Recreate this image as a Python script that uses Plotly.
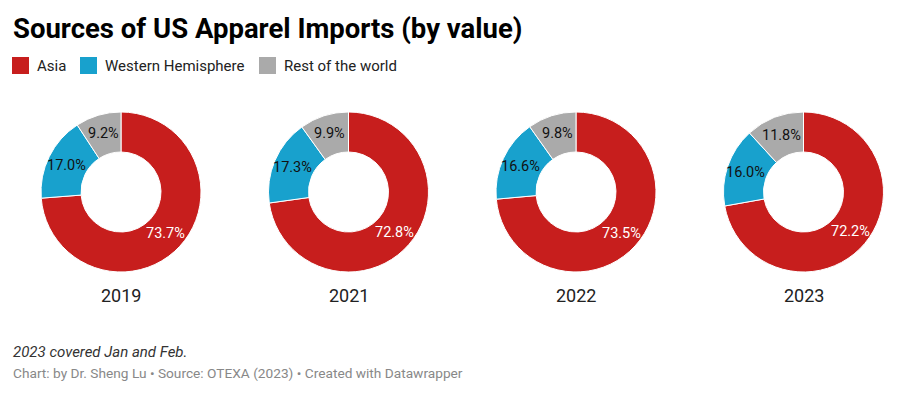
import math
import plotly.graph_objects as go

years = ["2019", "2021", "2022", "2023"]
regions = ["Asia", "Western Hemisphere", "Rest of the world"]
asia = [73.7, 72.8, 73.5, 72.2]
western = [17.0, 17.3, 16.6, 16.0]
rest = [9.2, 9.9, 9.8, 11.8]
colors = ["#c71e1d", "#18a1cd", "#aaaaaa"]
label_colors = ["#ffffff", "#111111", "#111111"]

W, H = 923, 395
OFF = 8  # page body margin offset


def px(x):
    return (x - OFF) / W


def py(y):
    return 1 - (y - OFF) / H


radius_px = 80
hole_frac = 0.5
cy_px = 192
label_r = 61

fig = go.Figure()
for i, yr in enumerate(years):
    vals = [asia[i], western[i], rest[i]]
    cx = 121 + 227.5 * i
    fig.add_trace(go.Pie(
        labels=regions,
        values=vals,
        textinfo="none",
        marker=dict(colors=colors, line=dict(color="#ffffff", width=1)),
        hole=hole_frac,
        sort=False,
        direction="clockwise",
        rotation=0,
        domain=dict(x=[px(cx - radius_px), px(cx + radius_px)],
                    y=[py(cy_px + radius_px), py(cy_px - radius_px)]),
        showlegend=False,
        text=[f"{v:.1f}%" for v in vals],
        hoverinfo="label+text",
    ))
    # percentage labels at the middle of each slice
    total = sum(vals)
    cum = 0.0
    for v, c in zip(vals, label_colors):
        mid = (cum + v / 2) / total * 2 * math.pi
        cum += v
        lx = cx + label_r * math.sin(mid)
        ly = cy_px - label_r * math.cos(mid)
        fig.add_annotation(text=f"{v:.1f}%", x=px(lx), y=py(ly), xref="paper", yref="paper",
                           showarrow=False, xanchor="center", yanchor="middle",
                           font=dict(family="Roboto", size=14.5, color=c))
    fig.add_annotation(text=yr, x=px(cx), y=py(295), xref="paper", yref="paper",
                       showarrow=False, font=dict(family="Roboto", size=18, color="#222222"),
                       xanchor="center", yanchor="middle")

# legend (manual, Datawrapper-style squares)
legend_sq_x = [12, 80, 259]
for name, col, lx in zip(regions, colors, legend_sq_x):
    fig.add_shape(type="rect", xref="paper", yref="paper",
                  x0=px(lx), x1=px(lx + 17), y0=py(74), y1=py(57),
                  fillcolor=col, line=dict(width=0))
    fig.add_annotation(text=name, x=px(lx + 23), y=py(65.5), xref="paper", yref="paper",
                       showarrow=False, xanchor="left", yanchor="middle",
                       font=dict(family="Roboto", size=15, color="#222222"))

fig.add_annotation(text="<b>Sources of US Apparel Imports (by value)</b>", x=px(11), y=py(29),
                   xref="paper", yref="paper", showarrow=False, xanchor="left", yanchor="middle",
                   font=dict(family="Roboto", size=27.5, color="#000000"))
fig.add_annotation(text="<i>2023 covered Jan and Feb.</i>", x=px(11), y=py(352),
                   xref="paper", yref="paper", showarrow=False, xanchor="left", yanchor="middle",
                   font=dict(family="Roboto", size=15, color="#333333"))
fig.add_annotation(text="Chart: by Dr. Sheng Lu • Source: OTEXA (2023) • Created with Datawrapper",
                   x=px(11), y=py(373),
                   xref="paper", yref="paper", showarrow=False, xanchor="left", yanchor="middle",
                   font=dict(family="Roboto", size=13.7, color="#888888"))

fig.update_layout(
    width=W, height=H,
    margin=dict(l=0, r=0, t=0, b=0),
    paper_bgcolor="#ffffff",
    font=dict(family="Roboto"),
    showlegend=False,
)
fig.write_html("out.html")
